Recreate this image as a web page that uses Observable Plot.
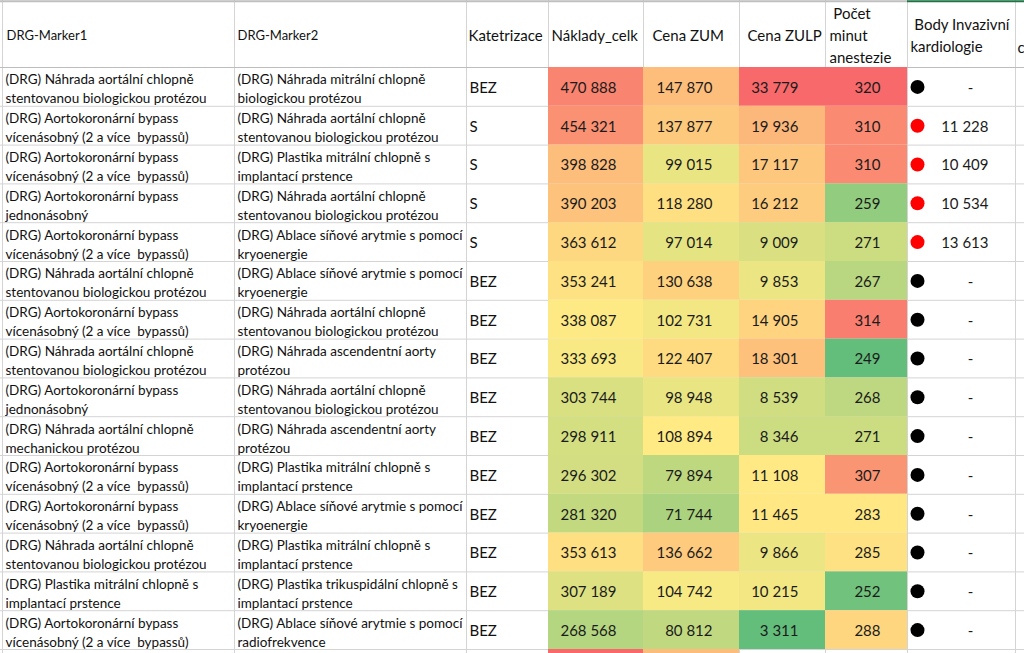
<!DOCTYPE html>
<html><head><meta charset="utf-8">
<script src="https://cdn.jsdelivr.net/npm/d3@7"></script>
<script src="https://cdn.jsdelivr.net/npm/@observablehq/plot@0.6"></script>
<style>html,body{margin:0;padding:0;background:#fff;overflow:hidden} svg{display:block}</style>
</head><body><div id="chart"></div>
<script>
// ---------- DATA ----------
const headers = ["DRG-Marker1", "DRG-Marker2", "Katetrizace", "Náklady_celk", "Cena ZUM", "Cena ZULP", "\u00a0Počet\nminut\nanestezie", "\u00a0Body Invazivní\nkardiologie", "c"];
const marker1 = [
  "(DRG) Náhrada aortální chlopně\nstentovanou biologickou protézou",
  "(DRG) Aortokoronární bypass\nvícenásobný (2 a více \u00a0bypassů)",
  "(DRG) Aortokoronární bypass\nvícenásobný (2 a více \u00a0bypassů)",
  "(DRG) Aortokoronární bypass\njednonásobný",
  "(DRG) Aortokoronární bypass\nvícenásobný (2 a více \u00a0bypassů)",
  "(DRG) Náhrada aortální chlopně\nstentovanou biologickou protézou",
  "(DRG) Aortokoronární bypass\nvícenásobný (2 a více \u00a0bypassů)",
  "(DRG) Náhrada aortální chlopně\nstentovanou biologickou protézou",
  "(DRG) Aortokoronární bypass\njednonásobný",
  "(DRG) Náhrada aortální chlopně\nmechanickou protézou",
  "(DRG) Aortokoronární bypass\nvícenásobný (2 a více \u00a0bypassů)",
  "(DRG) Aortokoronární bypass\nvícenásobný (2 a více \u00a0bypassů)",
  "(DRG) Náhrada aortální chlopně\nstentovanou biologickou protézou",
  "(DRG) Plastika mitrální chlopně s\nimplantací prstence",
  "(DRG) Aortokoronární bypass\nvícenásobný (2 a více \u00a0bypassů)",
  ""
];
const marker2 = [
  "(DRG) Náhrada mitrální chlopně\nbiologickou protézou",
  "(DRG) Náhrada aortální chlopně\nstentovanou biologickou protézou",
  "(DRG) Plastika mitrální chlopně s\nimplantací prstence",
  "(DRG) Náhrada aortální chlopně\nstentovanou biologickou protézou",
  "(DRG) Ablace síňové arytmie s pomocí\nkryoenergie",
  "(DRG) Ablace síňové arytmie s pomocí\nkryoenergie",
  "(DRG) Náhrada aortální chlopně\nstentovanou biologickou protézou",
  "(DRG) Náhrada ascendentní aorty\nprotézou",
  "(DRG) Náhrada aortální chlopně\nstentovanou biologickou protézou",
  "(DRG) Náhrada ascendentní aorty\nprotézou",
  "(DRG) Plastika mitrální chlopně s\nimplantací prstence",
  "(DRG) Ablace síňové arytmie s pomocí\nkryoenergie",
  "(DRG) Plastika mitrální chlopně s\nimplantací prstence",
  "(DRG) Plastika trikuspidální chlopně s\nimplantací prstence",
  "(DRG) Ablace síňové arytmie s pomocí\nradiofrekvence",
  ""
];
const katetrizace = ["BEZ","S","S","S","S","BEZ","BEZ","BEZ","BEZ","BEZ","BEZ","BEZ","BEZ","BEZ","BEZ",""];
const naklady  = [470888, 454321, 398828, 390203, 363612, 353241, 338087, 333693, 303744, 298911, 296302, 281320, 353613, 307189, 268568, 505000];
const cenaZUM  = [147870, 137877, 99015, 118280, 97014, 130638, 102731, 122407, 98948, 108894, 79894, 71744, 136662, 104742, 80812, 149000];
const cenaZULP = [33779, 19936, 17117, 16212, 9009, 9853, 14905, 18301, 8539, 8346, 11108, 11465, 9866, 10215, 3311, null];
const anestezie = [320, 310, 310, 259, 271, 267, 314, 249, 268, 271, 307, 283, 285, 252, 288, null];
const bodyIK   = [null, 11228, 10409, 10534, 13613, null, null, null, null, null, null, null, null, null, null, undefined];

// ---------- LAYOUT / STYLE ----------
const W = 1024, H = 653, headerH = 67, rowH = 38.8;
const visibleRows = 15;
const edges = [2, 234, 466, 548, 643, 739, 825, 907, 1015, 1200];
const numPad = 27;
const FONT = "Lato, 'Open Sans', sans-serif";
// 3-colour scale stops (min, mid, max) per column, like Excel conditional formatting
const stops = {3: [190000, 340000, 505000], 4: [41000, 108000, 222000], 5: [3311, 10800, 33779], 6: [249, 282, 320]};
const numCols = [[3, naklady], [4, cenaZUM], [5, cenaZULP], [6, anestezie]];

const fmt = d3.formatLocale({decimal: ",", thousands: "\u00a0", grouping: [3], currency: ["", ""]}).format(",d");
const norm = (c, v) => { const [lo, mid, hi] = stops[c]; return v < mid ? -(mid - v) / (mid - lo) : (v - mid) / (hi - mid); };

const cells = [];
for (const [c, arr] of numCols) arr.forEach((v, i) => { if (v != null) cells.push({c, row: i, v, t: norm(c, v)}); });
const cellsShown = cells.filter(d => d.row < visibleRows);
const rows = marker1.map((m, i) => ({row: i, m1: m, m2: marker2[i], k: katetrizace[i], b: bodyIK[i]}));
const bodyRows = rows.filter(d => d.b !== undefined);

const hdr = headers.map((h, i) => ({i, h}));
const hdrX = [6, 237, 468, 551, 652, 747, 829, 910, 1017];
const hdrY = [33, 33, 33, 33, 33, 33, 33, 33, 45];
const hdrSize = [13, 13, 15, 15, 15, 15, 15, 15, 15];

const rowLines = d3.range(0, marker1.length + 1);

const chart = Plot.plot({
  width: W, height: H,
  margin: 0,
  style: {fontFamily: FONT, background: "#fff", overflow: "hidden"},
  x: {type: "linear", domain: [0, W], range: [0, W], axis: null},
  y: {type: "linear", domain: [-headerH / rowH, (H - headerH) / rowH], range: [0, H], axis: null},
  color: {type: "linear", domain: [-1, 0, 1], range: ["#63BE7B", "#FFEB84", "#F8696B"], interpolate: "rgb"},
  marks: [
    // grid
    Plot.ruleY(rowLines, {y: d => d, x1: 0, x2: W, stroke: "#D4D4D4", strokeWidth: 1}),
    Plot.ruleX(edges, {x: d => d, y1: -headerH / rowH, y2: (H - headerH) / rowH, stroke: "#D4D4D4", strokeWidth: 1}),
    Plot.ruleY([-headerH / rowH + 0.02], {x1: 0, x2: edges[7], stroke: "#BFBFBF", strokeWidth: 2}),
    Plot.ruleY([-headerH / rowH + 0.02], {x1: edges[7], x2: W, stroke: "#217346", strokeWidth: 2}),
    Plot.ruleY([0], {x1: 0, x2: W, stroke: "#BDBDBD", strokeWidth: 1}),
    // coloured cells
    Plot.rect(cells, {x1: d => edges[d.c], x2: d => edges[d.c + 1], y1: d => d.row, y2: d => d.row + 1, fill: "t"}),
    Plot.text(cellsShown, {x: d => edges[d.c + 1] - numPad, y: d => d.row + 0.5, dy: 1, text: d => fmt(d.v), textAnchor: "end", fontSize: 15, fill: "#1b1b1b"}),
    // header
    Plot.text(hdr, {x: d => hdrX[d.i], y: d => -headerH / rowH + hdrY[d.i] / rowH, text: "h", textAnchor: "start",
      fontSize: d => hdrSize[d.i], lineHeight: 1.47, fill: "#111"}),
    // text columns
    Plot.text(rows, {x: edges[0] + 3, y: d => d.row + 0.5, dy: 1, text: "m1", textAnchor: "start", lineAnchor: "middle", fontSize: 13.5, lineHeight: 19/13.5, fill: "#111"}),
    Plot.text(rows, {x: edges[1] + 3, y: d => d.row + 0.5, dy: 1, text: "m2", textAnchor: "start", lineAnchor: "middle", fontSize: 13.5, lineHeight: 19/13.5, fill: "#111"}),
    Plot.text(rows, {x: edges[2] + 3, y: d => d.row + 0.5, dy: 1, text: "k", textAnchor: "start", fontSize: 15, fill: "#111"}),
    // Body invazivni kardiologie: icon + value
    Plot.dot(bodyRows.filter(d => d.b == null), {x: edges[7] + 10, y: d => d.row + 0.5, r: 7, fill: "#000", stroke: "none"}),
    Plot.dot(bodyRows.filter(d => d.b != null), {x: edges[7] + 10, y: d => d.row + 0.5, r: 7, fill: "#FF0000", stroke: "none"}),
    Plot.text(bodyRows.filter(d => d.b != null), {x: edges[8] - numPad, y: d => d.row + 0.5, dy: 1, text: d => fmt(d.b), textAnchor: "end", fontSize: 15, fill: "#1b1b1b"}),
    Plot.text(bodyRows.filter(d => d.b == null), {x: edges[8] - 45, y: d => d.row + 0.5, dy: 1, text: () => "-", textAnchor: "middle", fontSize: 15, fill: "#1b1b1b"})
  ]
});
document.getElementById("chart").appendChild(chart);
</script>
</body></html>
